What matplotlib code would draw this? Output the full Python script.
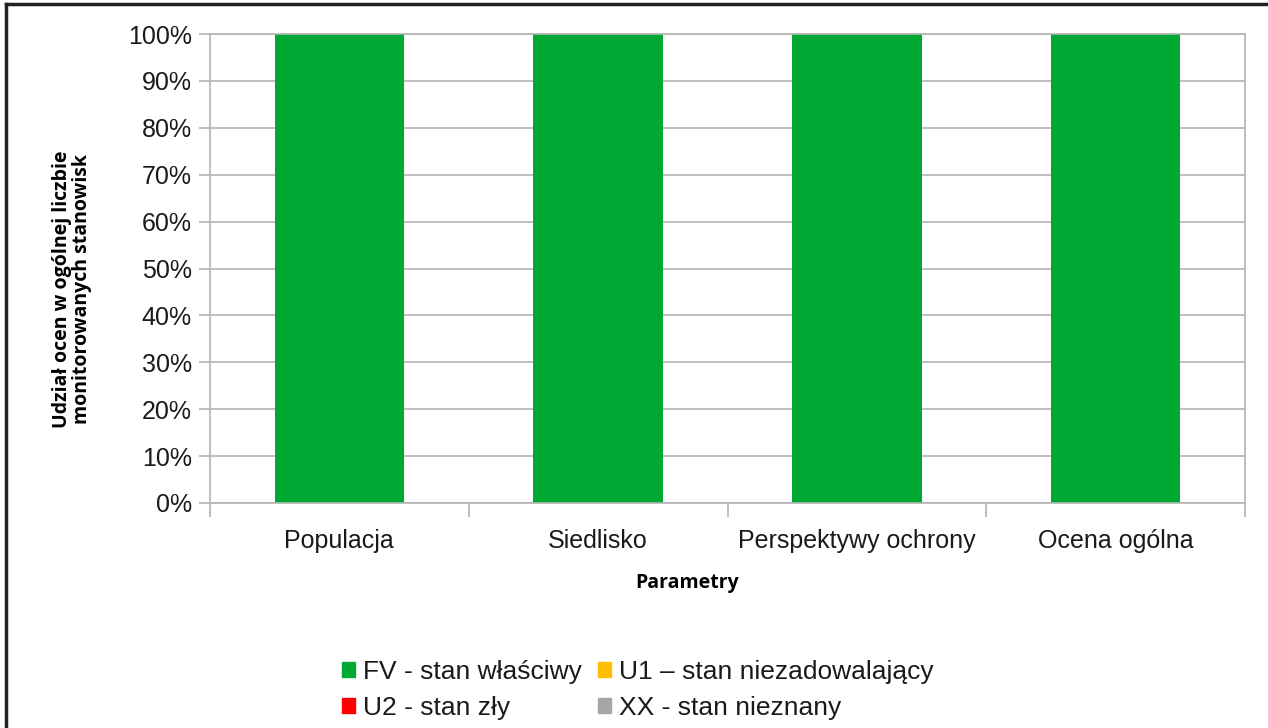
import matplotlib.pyplot as plt
from matplotlib.lines import Line2D
from matplotlib.patches import Patch

categories = ["Populacja", "Siedlisko", "Perspektywy ochrony", "Ocena ogólna"]
fv = [100, 100, 100, 100]
u1 = [0, 0, 0, 0]
u2 = [0, 0, 0, 0]
xx = [0, 0, 0, 0]
series_labels = ["FV - stan właściwy", "U1 – stan niezadowalający",
                 "U2 - stan zły", "XX - stan nieznany"]
series_colors = ["#00a933", "#ffbf00", "#ff0000", "#a6a6a6"]

plt.rcParams['font.family'] = ['Liberation Sans', 'DejaVu Sans']
grid_c = "#b3b3b3"

fig = plt.figure(figsize=(12.68, 7.28), dpi=100)
ax = fig.add_axes([210 / 1268, 1 - 503 / 728, 1035 / 1268, 469 / 728])

x = list(range(len(categories)))
bottom = [0] * len(categories)
for vals, col in zip([fv, u1, u2, xx], series_colors):
    ax.bar(x, vals, width=0.5, bottom=bottom, color=col, zorder=2)
    bottom = [b + v for b, v in zip(bottom, vals)]

ax.set_xlim(-0.5, len(categories) - 0.5)
ax.set_ylim(0, 100)
ax.set_yticks(range(0, 101, 10))
ax.set_yticklabels([f"{v}%" for v in range(0, 101, 10)])
ax.yaxis.grid(True, color=grid_c, linewidth=1.2, zorder=0)
ax.set_axisbelow(True)

ax.set_xticks([i - 0.5 for i in range(len(categories) + 1)])
ax.set_xticklabels([])
ax.set_xticks(x, minor=True)
ax.set_xticklabels(categories, minor=True)
ax.tick_params(axis='x', which='major', length=10, color=grid_c, width=1.2)
ax.tick_params(axis='x', which='minor', length=0, pad=19, labelsize=18, labelcolor='#1a1a1a')
ax.tick_params(axis='y', length=8, color=grid_c, width=1.2, pad=5, labelsize=18, labelcolor='#1a1a1a')
for s in ax.spines.values():
    s.set_color(grid_c)
    s.set_linewidth(1.2)

fig.text(72 / 1268, 1 - 289 / 728, "Udział ocen w ogólnej liczbie\nmonitorowanych stanowisk",
         rotation=90, ha='center', va='center', multialignment='center',
         fontfamily='Open Sans', fontweight='bold', fontsize=14, linespacing=1.0)
fig.text(687 / 1268, 1 - 583 / 728, "Parametry", ha='center', va='center',
         fontfamily='Open Sans', fontweight='bold', fontsize=14)

handles = [Patch(color=c) for c in series_colors]
order = [0, 2, 1, 3]
fig.legend([handles[i] for i in order], [series_labels[i] for i in order],
           ncol=2, loc='center', bbox_to_anchor=(0.503, 0.052), frameon=False,
           fontsize=19, handlelength=0.5, handleheight=0.5, handletextpad=0.3,
           columnspacing=0.6, labelspacing=0.45, labelcolor='#1a1a1a')

fig.add_artist(Line2D([6 / 1268, 6 / 1268], [0, 1 - 4 / 728], color='#222222', linewidth=2.5))
fig.add_artist(Line2D([6 / 1268, 1], [1 - 4 / 728, 1 - 4 / 728], color='#222222', linewidth=2.5))

fig.savefig("out.png", dpi=100)
